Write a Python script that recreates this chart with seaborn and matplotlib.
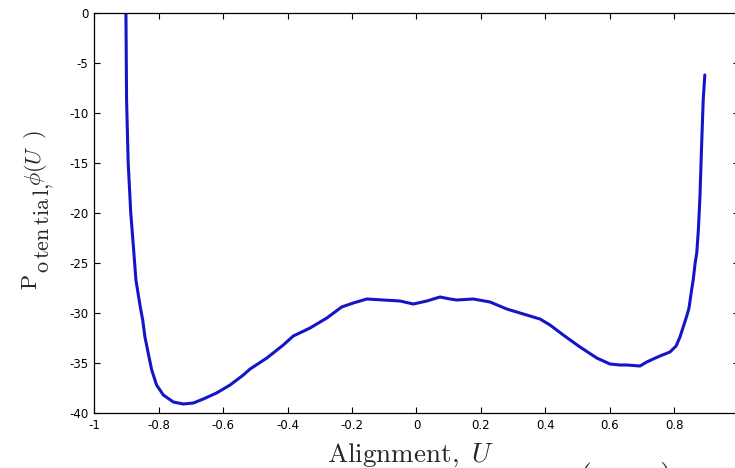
import matplotlib
matplotlib.use("Agg")
import matplotlib.pyplot as plt
import seaborn as sns
import pandas as pd

# ---- data ----
alignment = [-0.903, -0.901, -0.899, -0.894, -0.886, -0.878, -0.870, -0.857, -0.849,
             -0.842, -0.832, -0.821, -0.806, -0.785, -0.754, -0.723, -0.692, -0.661,
             -0.620, -0.578, -0.537, -0.516,
             -0.464, -0.413, -0.382, -0.330, -0.278, -0.232, -0.196, -0.154, -0.103,
             -0.051, -0.010, 0.032, 0.073, 0.104, 0.125, 0.176, 0.228, 0.280, 0.331,
             0.383, 0.414, 0.455, 0.507, 0.559, 0.600, 0.631, 0.652, 0.693, 0.714,
             0.734, 0.755, 0.786, 0.805, 0.817, 0.838, 0.845, 0.853, 0.858, 0.864,
             0.869, 0.874, 0.879, 0.884, 0.889, 0.894]
potential = [2.0, 0.0, -8.7, -15.0, -20.0, -23.3, -26.7, -29.3, -30.7,
             -32.4, -34.0, -35.7, -37.2, -38.2, -38.9, -39.1, -39.0, -38.6,
             -38.0, -37.2, -36.2, -35.6,
             -34.5, -33.2, -32.3, -31.5, -30.5, -29.4, -29.0, -28.6, -28.7,
             -28.8, -29.1, -28.8, -28.4, -28.6, -28.7, -28.6, -28.9, -29.6, -30.1,
             -30.6, -31.2, -32.2, -33.4, -34.5, -35.1, -35.2, -35.2, -35.3, -34.9,
             -34.6, -34.3, -33.9, -33.3, -32.4, -30.3, -29.5, -27.7, -26.7, -25.0,
             -24.0, -21.7, -18.3, -13.3, -8.7, -6.2]
xticks = [-1, -0.8, -0.6, -0.4, -0.2, 0, 0.2, 0.4, 0.6, 0.8, 1]
xtick_labels = ["-1", "-0.8", "-0.6", "-0.4", "-0.2", "0", "0.2", "0.4", "0.6", "0.8", "1"]
yticks = [0, -5, -10, -15, -20, -25, -30, -35, -40]
ytick_labels = ["0", "-5", "-10", "-15", "-20", "-25", "-30", "-35", "-40"]

df = pd.DataFrame({"U": alignment, "phi": potential})

sns.set_style("ticks")
plt.rcParams["font.family"] = ["DejaVu Sans"]
plt.rcParams["mathtext.fontset"] = "cm"

W, H = 735, 468
fig = plt.figure(figsize=(W / 100, H / 100), dpi=100)
fig.patch.set_facecolor("white")
ax = fig.add_axes([94 / W, 1 - 413 / H, (739 - 94) / W, (413 - 13) / H])

sns.lineplot(data=df, x="U", y="phi", ax=ax, color="#1515c8", linewidth=2.2,
             estimator=None, sort=False)

ax.set_xlim(-1, 1)
ax.set_ylim(-40, 0)
ax.set_xticks(xticks)
ax.set_xticklabels(xtick_labels)
ax.set_yticks(yticks)
ax.set_yticklabels(ytick_labels)
ax.tick_params(direction="in", length=4, width=0.8, labelsize=8.5, colors="black",
               top=True, right=True, pad=4)
for s in ax.spines.values():
    s.set_linewidth(0.9)
    s.set_color("black")
    s.set_visible(True)
ax.set_facecolor("white")
ax.grid(False)

ax.set_xlabel(r"$\mathrm{Alignment,}\ U$", fontsize=19.5)
ax.xaxis.set_label_coords(0.49, -0.072)
ax.set_ylabel("")

# y label pieces (rotated), mimicking the offset glyph layout of the original
def ytext(xpx, ypx, s):
    fig.text(xpx / W, 1 - ypx / H, s, rotation=90, rotation_mode="anchor",
             ha="left", va="baseline", fontsize=16)

ytext(37, 290, r"$\mathrm{P}$")
ytext(49, 273, r"$\mathrm{o\,ten\,tia\,l,}$")
ytext(41, 186, r"$\phi(U\;\;)$")

# partially visible parentheses at the bottom edge (cut off in the original too)
fig.text(585 / W, 1 - 460 / H, r"$($", fontsize=24, ha="center", va="top")
fig.text(665 / W, 1 - 460 / H, r"$)$", fontsize=24, ha="center", va="top")

fig.savefig("out.png", dpi=100, facecolor="white")
